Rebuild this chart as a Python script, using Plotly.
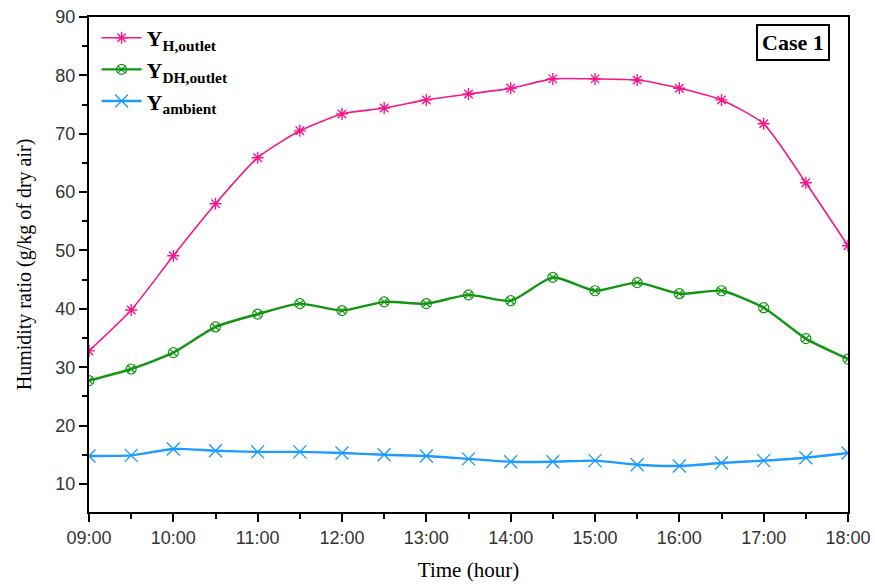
import plotly.graph_objects as go

times = ["09:00", "09:30", "10:00", "10:30", "11:00", "11:30", "12:00", "12:30", "13:00",
         "13:30", "14:00", "14:30", "15:00", "15:30", "16:00", "16:30", "17:00", "17:30", "18:00"]
y_h_outlet = [32.8, 39.8, 49.1, 58.0, 65.9, 70.5, 73.4, 74.4, 75.8, 76.8, 77.8, 79.4, 79.4,
              79.2, 77.8, 75.8, 71.7, 61.6, 50.8]
y_dh_outlet = [27.7, 29.7, 32.5, 36.9, 39.1, 40.9, 39.7, 41.2, 40.9, 42.4, 41.4, 45.4, 43.1,
               44.5, 42.6, 43.1, 40.2, 34.9, 31.4]
y_ambient = [14.8, 14.9, 16.0, 15.7, 15.5, 15.5, 15.3, 15.0, 14.8, 14.3, 13.8, 13.8, 14.0,
             13.3, 13.1, 13.6, 14.0, 14.5, 15.3]
y_ticks = [10, 20, 30, 40, 50, 60, 70, 80, 90]

x = ["2024-01-01 " + t for t in times]

fig = go.Figure()
fig.add_trace(go.Scatter(
    x=x, y=y_h_outlet, mode="lines+markers", name="Y<sub>H,outlet</sub>",
    line=dict(color="#f5168a", width=1.6, shape="spline", smoothing=0.6),
    marker=dict(symbol="asterisk-open", size=10, color="#f5168a", line=dict(width=1.4, color="#f5168a"))))
fig.add_trace(go.Scatter(
    x=x, y=y_dh_outlet, mode="lines+markers", name="Y<sub>DH,outlet</sub>",
    line=dict(color="#129612", width=2.4, shape="spline", smoothing=0.6),
    marker=dict(symbol="circle-x-open", size=10, color="#129612", line=dict(width=1.2, color="#129612"))))
fig.add_trace(go.Scatter(
    x=x, y=y_ambient, mode="lines+markers", name="Y<sub>ambient</sub>",
    line=dict(color="#1e9bff", width=2.4, shape="spline", smoothing=0.6),
    marker=dict(symbol="x-thin-open", size=13, color="#1e9bff", line=dict(width=1.4, color="#1e9bff"))))

fig.update_layout(
    width=875, height=588,
    margin=dict(l=89, r=27, t=17, b=76, autoexpand=False),
    paper_bgcolor="white", plot_bgcolor="white",
    showlegend=True,
    legend=dict(x=0.01, y=1.0, xanchor="left", yanchor="top",
                font=dict(family="Liberation Serif", size=22, color="black", weight="bold"),
                bgcolor="rgba(0,0,0,0)", tracegroupgap=0, itemwidth=40),
    annotations=[dict(text="<b>Case 1</b>", x=0.976, y=0.985, xref="paper", yref="paper",
                      xanchor="right", yanchor="top", showarrow=False,
                      font=dict(family="Liberation Serif", size=22, color="black"),
                      bordercolor="black", borderwidth=2, borderpad=4, bgcolor="white")],
)

fig.update_xaxes(
    type="date", range=["2024-01-01 09:00", "2024-01-01 18:00"],
    dtick=3600000, tickformat="%H:%M", automargin=False,
    showgrid=False, zeroline=False,
    showline=True, linecolor="black", linewidth=2, mirror=True,
    ticks="outside", ticklen=8, tickwidth=2, tickcolor="black",
    minor=dict(dtick=1800000, ticks="outside", ticklen=5, tickwidth=2, tickcolor="black", showgrid=False),
    tickfont=dict(family="Liberation Sans", size=18, color="#333333"),
    title=dict(text="Time (hour)", font=dict(family="Liberation Serif", size=21, color="black"), standoff=16),
)
fig.update_yaxes(
    range=[5.2, 90], tickvals=y_ticks, automargin=False,
    showgrid=False, zeroline=False,
    showline=True, linecolor="black", linewidth=2, mirror=True,
    ticks="outside", ticklen=8, tickwidth=1.5, tickcolor="black",
    minor=dict(tickvals=[15, 25, 35, 45, 55, 65, 75, 85], ticks="outside", ticklen=5, tickwidth=1.5,
               tickcolor="black", showgrid=False),
    tickfont=dict(family="Liberation Sans", size=18, color="#333333"),
    title=dict(text="Humidity ratio (g/kg of dry air)",
               font=dict(family="Liberation Serif", size=20, color="black"), standoff=18),
)

fig.write_html("out.html")
